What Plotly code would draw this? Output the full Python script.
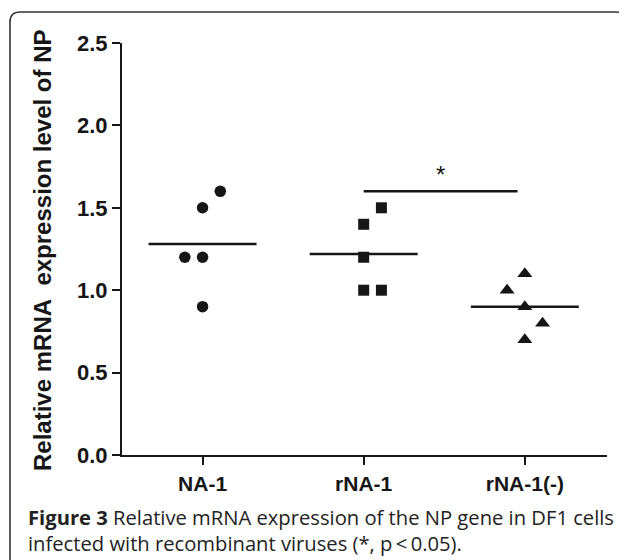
import numpy as np
import plotly.graph_objects as go

# ---- data ----
categories = ["NA-1", "rNA-1", "rNA-1(-)"]
na1_values = [1.6, 1.5, 1.2, 1.2, 0.9]
rna1_values = [1.5, 1.4, 1.2, 1.0, 1.0]
rna1neg_values = [1.1, 1.0, 0.9, 0.8, 0.7]
# scatter column (-1 left, 0 centre, +1 right) for the dot plot layout
na1_cols = [1, 0, -1, 0, 0]
rna1_cols = [1, 0, 0, 0, 1]
rna1neg_cols = [0, -1, 0, 1, 0]
y_ticks = [0.0, 0.5, 1.0, 1.5, 2.0, 2.5]
sig_pair = (1, 2)
sig_level = 1.6
sig_label = "*"
caption_lines = [
    "<b>Figure 3</b> Relative mRNA expression of the NP gene in DF1 cells",
    "infected with recombinant viruses (*, p\u2009<\u20090.05).",
]

# ---- geometry (window pixels; page body has an 8px margin) ----
OFF = 8
WIN_W, WIN_H = 627, 560
W, H = WIN_W - OFF, WIN_H - OFF
L, R, T, B = 122 - OFF, WIN_W - 607, 43 - OFF, WIN_H - 455
pw, ph = W - L - R, H - T - B

def px_x(p):
    return (p - OFF - L) / pw

def px_y(p):
    return (WIN_H - B - p) / ph

ink = "#161616"
font_main = "Arial, Liberation Sans, sans-serif"
col_step = 0.11
half_w = 0.335

fig = go.Figure()
groups = [
    (na1_values, na1_cols, "circle", 11.5),
    (rna1_values, rna1_cols, "square", 11),
    (rna1neg_values, rna1neg_cols, "triangle-up", 13),
]
for i, (vals, cols, sym, sz) in enumerate(groups):
    xs = [i + c * col_step for c in cols]
    fig.add_trace(go.Scatter(
        x=xs, y=vals, mode="markers",
        marker=dict(symbol=sym, size=sz, color=ink, line=dict(width=0)),
        showlegend=False, hoverinfo="y"))
    m = float(np.mean(vals))
    fig.add_trace(go.Scatter(
        x=[i - half_w, i + half_w], y=[m, m], mode="lines",
        line=dict(color=ink, width=2.6), showlegend=False, hoverinfo="skip"))

# significance bar
fig.add_trace(go.Scatter(
    x=[sig_pair[0], sig_pair[1] - 0.045], y=[sig_level, sig_level], mode="lines",
    line=dict(color=ink, width=2.4), showlegend=False, hoverinfo="skip"))
fig.add_annotation(x=(sig_pair[0] + sig_pair[1] - 0.045) / 2, y=sig_level + 0.105,
                   text=sig_label, showarrow=False, yanchor="middle",
                   font=dict(family=font_main, size=24, color=ink))

# y axis title
fig.add_annotation(xref="paper", yref="paper", x=px_x(42), y=px_y(250),
                   text="Relative mRNA\u00a0 expression level of NP", textangle=-90,
                   showarrow=False, xanchor="center", yanchor="middle",
                   font=dict(family=font_main, size=24, color=ink, weight="bold"))

# caption (two lines in one block)
cap_font = dict(family="Open Sans, Noto Sans, sans-serif", size=20.2, color="#222222")
fig.add_annotation(xref="paper", yref="paper", x=px_x(26), y=px_y(530),
                   text="<br>".join(caption_lines), align="left",
                   showarrow=False, xanchor="left", yanchor="middle", font=cap_font)

# rounded frame
r = 10
x0, y0, x1, y1 = 10, 12, 626, 580
path = (f"M {px_x(x0)},{px_y(y1)} L {px_x(x0)},{px_y(y0 + r)} "
        f"Q {px_x(x0)},{px_y(y0)} {px_x(x0 + r)},{px_y(y0)} "
        f"L {px_x(x1 - r)},{px_y(y0)} "
        f"Q {px_x(x1)},{px_y(y0)} {px_x(x1)},{px_y(y0 + r)} "
        f"L {px_x(x1)},{px_y(y1)}")
fig.add_shape(type="path", xref="paper", yref="paper", path=path,
              line=dict(color="#333333", width=1.6), layer="below")

fig.update_xaxes(range=[-0.5, 2.51], tickvals=[0, 1, 2], ticktext=categories,
                 showgrid=False, zeroline=False, showline=True, linecolor=ink, linewidth=2.2,
                 ticks="outside", ticklen=8, tickwidth=2, tickcolor=ink, ticklabelstandoff=1,
                 tickfont=dict(family=font_main, size=21, color=ink, weight="bold"))
fig.update_yaxes(range=[0, 2.5], tickvals=y_ticks, tickformat=".1f",
                 showgrid=False, zeroline=False, showline=True, linecolor=ink, linewidth=2.2,
                 ticks="outside", ticklen=8, tickwidth=2, tickcolor=ink,
                 tickfont=dict(family=font_main, size=22, color=ink, weight="bold"))
fig.update_layout(width=W, height=H, margin=dict(l=L, r=R, t=T, b=B),
                  plot_bgcolor="white", paper_bgcolor="white")
fig.write_html("out.html")
